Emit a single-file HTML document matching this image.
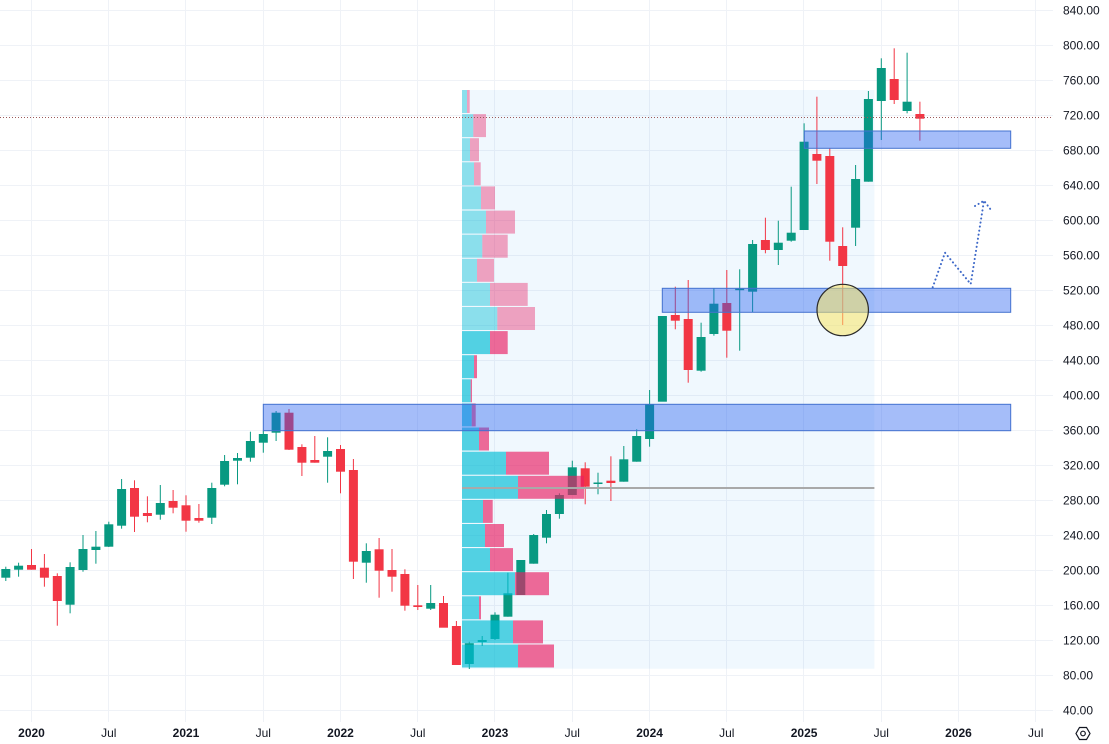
<!DOCTYPE html>
<html>
<head>
<meta charset="utf-8">
<style>
  html,body{margin:0;padding:0;background:#ffffff;}
  body{width:1109px;height:744px;overflow:hidden;}
  svg{display:block;}
  text{font-family:"Liberation Sans",sans-serif;font-size:12px;fill:#131722;}
</style>
</head>
<body>
<svg width="1109" height="744" viewBox="0 0 1109 744" xmlns="http://www.w3.org/2000/svg">
  <rect x="0" y="0" width="1109" height="744" fill="#ffffff"/>

  <!-- grid -->
  <g stroke="#eff2f7" stroke-width="1">
    <line x1="0" x2="1053" y1="10.5" y2="10.5"/>
    <line x1="0" x2="1053" y1="45.5" y2="45.5"/>
    <line x1="0" x2="1053" y1="80.5" y2="80.5"/>
    <line x1="0" x2="1053" y1="115.5" y2="115.5"/>
    <line x1="0" x2="1053" y1="150.5" y2="150.5"/>
    <line x1="0" x2="1053" y1="185.5" y2="185.5"/>
    <line x1="0" x2="1053" y1="220.5" y2="220.5"/>
    <line x1="0" x2="1053" y1="255.5" y2="255.5"/>
    <line x1="0" x2="1053" y1="290.5" y2="290.5"/>
    <line x1="0" x2="1053" y1="325.5" y2="325.5"/>
    <line x1="0" x2="1053" y1="360.5" y2="360.5"/>
    <line x1="0" x2="1053" y1="395.5" y2="395.5"/>
    <line x1="0" x2="1053" y1="430.5" y2="430.5"/>
    <line x1="0" x2="1053" y1="465.5" y2="465.5"/>
    <line x1="0" x2="1053" y1="500.5" y2="500.5"/>
    <line x1="0" x2="1053" y1="535.5" y2="535.5"/>
    <line x1="0" x2="1053" y1="570.5" y2="570.5"/>
    <line x1="0" x2="1053" y1="605.5" y2="605.5"/>
    <line x1="0" x2="1053" y1="640.5" y2="640.5"/>
    <line x1="0" x2="1053" y1="675.5" y2="675.5"/>
    <line x1="0" x2="1053" y1="710.5" y2="710.5"/>
    <line y1="0" y2="722" x1="31.5" x2="31.5"/>
    <line y1="0" y2="722" x1="108.5" x2="108.5"/>
    <line y1="0" y2="722" x1="185.5" x2="185.5"/>
    <line y1="0" y2="722" x1="263.5" x2="263.5"/>
    <line y1="0" y2="722" x1="340.5" x2="340.5"/>
    <line y1="0" y2="722" x1="417.5" x2="417.5"/>
    <line y1="0" y2="722" x1="494.5" x2="494.5"/>
    <line y1="0" y2="722" x1="572.5" x2="572.5"/>
    <line y1="0" y2="722" x1="649.5" x2="649.5"/>
    <line y1="0" y2="722" x1="726.5" x2="726.5"/>
    <line y1="0" y2="722" x1="803.5" x2="803.5"/>
    <line y1="0" y2="722" x1="881.5" x2="881.5"/>
    <line y1="0" y2="722" x1="958.5" x2="958.5"/>
    <line y1="0" y2="722" x1="1035.5" x2="1035.5"/>
  </g>

  <!-- volume profile background -->
  <rect x="462" y="90" width="412.4" height="578.7" fill="rgba(33,150,243,0.065)"/>

  <!-- green candles -->
  <g fill="#089981">
    <rect x="1.3" y="569" width="9" height="8.7"/><rect x="5.3" y="566.7" width="1" height="14.3"/>
    <rect x="14.1" y="565.7" width="9" height="4"/><rect x="18.1" y="562.7" width="1" height="14"/>
    <rect x="65.6" y="567" width="9" height="37.7"/><rect x="69.6" y="562.3" width="1" height="51"/>
    <rect x="78.5" y="549" width="9" height="21"/><rect x="82.5" y="535" width="1" height="36.7"/>
    <rect x="91.4" y="546.7" width="9" height="3.3"/><rect x="95.4" y="531" width="1" height="32.7"/>
    <rect x="104.3" y="524.3" width="9" height="22.4"/><rect x="108.3" y="521.7" width="1" height="25.3"/>
    <rect x="117.1" y="489" width="9" height="36.7"/><rect x="121.1" y="479" width="1" height="49.7"/>
    <rect x="155.8" y="503" width="9" height="11.7"/><rect x="159.8" y="485" width="1" height="34.7"/>
    <rect x="207.3" y="488" width="9" height="29.7"/><rect x="211.3" y="482.7" width="1" height="41.3"/>
    <rect x="220.1" y="461" width="9" height="23.7"/><rect x="224.1" y="455" width="1" height="31.3"/>
    <rect x="233" y="458" width="9" height="2.7"/><rect x="237" y="453" width="1" height="31.3"/>
    <rect x="245.9" y="441" width="9" height="16.7"/><rect x="249.9" y="431.7" width="1" height="30"/>
    <rect x="258.8" y="434" width="9" height="8.7"/><rect x="262.8" y="430.7" width="1" height="22"/>
    <rect x="271.6" y="412.7" width="9" height="20"/><rect x="275.6" y="411" width="1" height="30"/>
    <rect x="323.1" y="451" width="9" height="5.7"/><rect x="327.1" y="437.3" width="1" height="45.4"/>
    <rect x="361.8" y="551" width="9" height="11.7"/><rect x="365.8" y="543.3" width="1" height="39.4"/>
    <rect x="426.2" y="603" width="9" height="5.7"/><rect x="430.2" y="585" width="1" height="25"/>
    <rect x="464.8" y="643.3" width="9" height="20.7"/><rect x="468.8" y="641.7" width="1" height="27.3"/>
    <rect x="477.7" y="640" width="9" height="2"/><rect x="481.7" y="636" width="1" height="10"/>
    <rect x="490.5" y="614.7" width="9" height="24.3"/><rect x="494.5" y="612.3" width="1" height="27.7"/>
    <rect x="503.4" y="593.3" width="9" height="23.4"/><rect x="507.4" y="572.7" width="1" height="44"/>
    <rect x="516.3" y="560" width="9" height="35"/>
    <rect x="529.2" y="535" width="9" height="28.7"/><rect x="533.2" y="534" width="1" height="29.7"/>
    <rect x="542" y="514" width="9" height="23.7"/><rect x="546" y="510" width="1" height="33.3"/>
    <rect x="554.9" y="495" width="9" height="19"/><rect x="558.9" y="493.3" width="1" height="25.4"/>
    <rect x="567.8" y="467.3" width="9" height="27.7"/><rect x="571.8" y="460.7" width="1" height="34.3"/>
    <rect x="593.5" y="482.5" width="9" height="1.5"/><rect x="597.5" y="472.7" width="1" height="21.6"/>
    <rect x="619.3" y="459.3" width="9" height="22.4"/><rect x="623.3" y="446" width="1" height="35.7"/>
    <rect x="632.2" y="436" width="9" height="25.7"/><rect x="636.2" y="429.3" width="1" height="32.4"/>
    <rect x="645.1" y="404" width="9" height="35"/><rect x="649.1" y="390" width="1" height="56.7"/>
    <rect x="657.9" y="316" width="9" height="85.7"/>
    <rect x="696.6" y="337" width="9" height="33.7"/><rect x="700.6" y="322.7" width="1" height="49"/>
    <rect x="709.4" y="303.7" width="9" height="30.3"/><rect x="713.4" y="288.3" width="1" height="47.4"/>
    <rect x="735.2" y="288.7" width="9" height="1.5"/><rect x="739.2" y="269.3" width="1" height="81.4"/>
    <rect x="748.1" y="244" width="9" height="47.7"/><rect x="752.1" y="240" width="1" height="72.3"/>
    <rect x="773.8" y="242.7" width="9" height="7.3"/><rect x="777.8" y="220.7" width="1" height="44.3"/>
    <rect x="786.7" y="232.7" width="9" height="8"/><rect x="790.7" y="186.7" width="1" height="55"/>
    <rect x="799.6" y="141.7" width="9" height="88.3"/><rect x="803.6" y="123.3" width="1" height="106.7"/>
    <rect x="851.1" y="179" width="9" height="48.7"/><rect x="855.1" y="165" width="1" height="81"/>
    <rect x="863.9" y="99" width="9" height="82.7"/><rect x="867.9" y="91" width="1" height="90.7"/>
    <rect x="876.8" y="68" width="9" height="33"/><rect x="880.8" y="58.3" width="1" height="81.7"/>
    <rect x="902.6" y="101.7" width="9" height="9.3"/><rect x="906.6" y="52.7" width="1" height="60.6"/>
  </g>

  <!-- red candles -->
  <g fill="#f23645">
    <rect x="27" y="565" width="9" height="4.7"/><rect x="31" y="549" width="1" height="20.7"/>
    <rect x="39.9" y="567.7" width="9" height="10"/><rect x="43.9" y="554" width="1" height="32.7"/>
    <rect x="52.8" y="576" width="9" height="25"/><rect x="56.8" y="573.3" width="1" height="52.4"/>
    <rect x="130" y="488" width="9" height="28.7"/><rect x="134" y="480.3" width="1" height="51.7"/>
    <rect x="142.9" y="513" width="9" height="3"/><rect x="146.9" y="496.3" width="1" height="26"/>
    <rect x="168.6" y="501" width="9" height="6.7"/><rect x="172.6" y="490" width="1" height="23.3"/>
    <rect x="181.5" y="505.3" width="9" height="15.4"/><rect x="185.5" y="495.3" width="1" height="36.4"/>
    <rect x="194.4" y="518" width="9" height="2.7"/><rect x="198.4" y="504" width="1" height="18.7"/>
    <rect x="284.5" y="412.7" width="9" height="37"/><rect x="288.5" y="409" width="1" height="41"/>
    <rect x="297.4" y="447" width="9" height="15.7"/><rect x="301.4" y="444.3" width="1" height="31.7"/>
    <rect x="310.3" y="460" width="9" height="2.7"/><rect x="314.3" y="436" width="1" height="26.7"/>
    <rect x="336" y="449" width="9" height="22.7"/><rect x="340" y="445" width="1" height="48.3"/>
    <rect x="348.9" y="470" width="9" height="91.7"/><rect x="352.9" y="459" width="1" height="120"/>
    <rect x="374.6" y="549.3" width="9" height="21.4"/><rect x="378.6" y="538" width="1" height="59.7"/>
    <rect x="387.5" y="570" width="9" height="6.7"/><rect x="391.5" y="549" width="1" height="42.7"/>
    <rect x="400.4" y="574" width="9" height="31.7"/><rect x="404.4" y="569.3" width="1" height="41.4"/>
    <rect x="413.3" y="605.3" width="9" height="1.7"/><rect x="417.3" y="585" width="1" height="25"/>
    <rect x="439" y="603" width="9" height="24.7"/><rect x="443" y="596" width="1" height="31.3"/>
    <rect x="451.9" y="626" width="9" height="39"/><rect x="455.9" y="621" width="1" height="44"/>
    <rect x="580.7" y="468.3" width="9" height="18.4"/><rect x="584.7" y="462.3" width="1" height="42"/>
    <rect x="606.4" y="480.7" width="9" height="2.3"/><rect x="610.4" y="456.3" width="1" height="44.7"/>
    <rect x="670.8" y="315" width="9" height="5.7"/><rect x="674.8" y="286.7" width="1" height="42.6"/>
    <rect x="683.7" y="319" width="9" height="51"/><rect x="687.7" y="280" width="1" height="102.7"/>
    <rect x="722.3" y="303" width="9" height="27.7"/><rect x="726.3" y="270" width="1" height="87.7"/>
    <rect x="760.9" y="240" width="9" height="10"/><rect x="764.9" y="217.7" width="1" height="35.6"/>
    <rect x="812.4" y="154" width="9" height="6.7"/><rect x="816.4" y="96.7" width="1" height="87.3"/>
    <rect x="825.3" y="156" width="9" height="85.7"/><rect x="829.3" y="148.3" width="1" height="112.4"/>
    <rect x="838.2" y="246" width="9" height="20"/><rect x="842.2" y="227.3" width="1" height="97.7"/>
    <rect x="889.7" y="79" width="9" height="21"/><rect x="893.7" y="48.3" width="1" height="55.7"/>
    <rect x="915.4" y="114" width="9" height="4.7"/><rect x="919.4" y="101.7" width="1" height="39"/>
  </g>

  <!-- volume profile rows (light) -->
  <g fill="rgba(0,188,212,0.42)">
    <rect x="462" y="90" width="5" height="23"/>
    <rect x="462" y="114.1" width="11.3" height="23"/>
    <rect x="462" y="138.2" width="8" height="23"/>
    <rect x="462" y="162.3" width="12" height="23"/>
    <rect x="462" y="186.4" width="19" height="23"/>
    <rect x="462" y="210.6" width="24" height="23"/>
    <rect x="462" y="234.7" width="20.3" height="23"/>
    <rect x="462" y="258.8" width="15" height="23"/>
    <rect x="462" y="282.9" width="28" height="23"/>
    <rect x="462" y="307" width="35.3" height="23"/>
  </g>
  <g fill="rgba(233,30,99,0.4)">
    <rect x="467" y="90" width="2.7" height="23"/>
    <rect x="473.3" y="114.1" width="12.7" height="23"/>
    <rect x="470" y="138.2" width="9" height="23"/>
    <rect x="474" y="162.3" width="6.7" height="23"/>
    <rect x="481" y="186.4" width="14" height="23"/>
    <rect x="486" y="210.6" width="29" height="23"/>
    <rect x="482.3" y="234.7" width="25.4" height="23"/>
    <rect x="477" y="258.8" width="17" height="23"/>
    <rect x="490" y="282.9" width="37.7" height="23"/>
    <rect x="497.3" y="307" width="37.7" height="23"/>
  </g>
  <!-- volume profile rows (value area) -->
  <g fill="rgba(0,188,212,0.66)">
    <rect x="462" y="331.1" width="28" height="23"/>
    <rect x="462" y="355.2" width="12" height="23"/>
    <rect x="462" y="379.3" width="8.7" height="23"/>
    <rect x="462" y="403.4" width="9.7" height="23"/>
    <rect x="462" y="427.5" width="17" height="23"/>
    <rect x="462" y="451.7" width="44" height="23"/>
    <rect x="462" y="475.8" width="56" height="23"/>
    <rect x="462" y="499.9" width="21" height="23"/>
    <rect x="462" y="524" width="23" height="23"/>
    <rect x="462" y="548.1" width="28" height="23"/>
    <rect x="462" y="572.2" width="53" height="23"/>
    <rect x="462" y="596.3" width="17" height="23"/>
    <rect x="462" y="620.4" width="51" height="23"/>
    <rect x="462" y="644.5" width="56" height="23"/>
  </g>
  <g fill="rgba(233,30,99,0.66)">
    <rect x="490" y="331.1" width="17.7" height="23"/>
    <rect x="474" y="355.2" width="3" height="23"/>
    <rect x="470.7" y="379.3" width="1.3" height="23"/>
    <rect x="471.7" y="403.4" width="4" height="23"/>
    <rect x="479" y="427.5" width="10" height="23"/>
    <rect x="506" y="451.7" width="43" height="23"/>
    <rect x="518" y="475.8" width="66" height="23"/>
    <rect x="483" y="499.9" width="9.7" height="23"/>
    <rect x="485" y="524" width="19" height="23"/>
    <rect x="490" y="548.1" width="23" height="23"/>
    <rect x="515" y="572.2" width="34" height="23"/>
    <rect x="479" y="596.3" width="2" height="23"/>
    <rect x="513" y="620.4" width="30" height="23"/>
    <rect x="518" y="644.5" width="36" height="23"/>
  </g>
  <!-- POC line -->
  <rect x="462" y="487" width="412.4" height="2" fill="#a9a9a9"/>

  <!-- blue zones -->
  <g fill="rgba(41,98,240,0.42)" stroke="#4472cf" stroke-width="1">
    <rect x="804.3" y="131" width="206.4" height="17.3"/>
    <rect x="662.3" y="288.3" width="348.4" height="24"/>
    <rect x="263.3" y="404.3" width="747.4" height="26.4"/>
  </g>

  <!-- yellow circle -->
  <circle cx="842.7" cy="310" r="25.7" fill="rgba(250,230,100,0.55)" stroke="#2a2a2a" stroke-width="1.2"/>

  <!-- dotted arrow -->
  <g fill="none" stroke="#3d68c8" stroke-width="2" stroke-linecap="round" stroke-dasharray="0.1 4">
    <polyline points="932.7,287.3 945,252.7 970.7,284 984,200.7"/>
    <polyline points="975,206 984,200.7 992.3,211.7"/>
  </g>

  <!-- current price dotted line -->
  <line x1="0" x2="1053" y1="117.5" y2="117.5" stroke="#9c5a5a" stroke-width="1" stroke-dasharray="1 2"/>

  <!-- price axis labels -->
  <g dominant-baseline="central">
    <text x="1063" y="10.5">840.00</text>
    <text x="1063" y="45.5">800.00</text>
    <text x="1063" y="80.5">760.00</text>
    <text x="1063" y="115.5">720.00</text>
    <text x="1063" y="150.5">680.00</text>
    <text x="1063" y="185.5">640.00</text>
    <text x="1063" y="220.5">600.00</text>
    <text x="1063" y="255.5">560.00</text>
    <text x="1063" y="290.5">520.00</text>
    <text x="1063" y="325.5">480.00</text>
    <text x="1063" y="360.5">440.00</text>
    <text x="1063" y="395.5">400.00</text>
    <text x="1063" y="430.5">360.00</text>
    <text x="1063" y="465.5">320.00</text>
    <text x="1063" y="500.5">280.00</text>
    <text x="1063" y="535.5">240.00</text>
    <text x="1063" y="570.5">200.00</text>
    <text x="1063" y="605.5">160.00</text>
    <text x="1063" y="640.5">120.00</text>
    <text x="1063" y="675.5">80.00</text>
    <text x="1063" y="710.5">40.00</text>
  </g>

  <!-- time axis labels -->
  <g text-anchor="middle" dominant-baseline="central">
    <text x="31.5" y="733" font-weight="bold">2020</text>
    <text x="108.8" y="733">Jul</text>
    <text x="186" y="733" font-weight="bold">2021</text>
    <text x="263.3" y="733">Jul</text>
    <text x="340.5" y="733" font-weight="bold">2022</text>
    <text x="417.8" y="733">Jul</text>
    <text x="495" y="733" font-weight="bold">2023</text>
    <text x="572.3" y="733">Jul</text>
    <text x="649.6" y="733" font-weight="bold">2024</text>
    <text x="726.8" y="733">Jul</text>
    <text x="804.1" y="733" font-weight="bold">2025</text>
    <text x="881.3" y="733">Jul</text>
    <text x="958.5" y="733" font-weight="bold">2026</text>
    <text x="1035.7" y="733">Jul</text>
  </g>

  <!-- settings icon -->
  <g fill="none" stroke="#131722" stroke-width="1.2">
    <polygon points="1076,733.5 1079.5,727.5 1086.5,727.5 1090,733.5 1086.5,739.5 1079.5,739.5"/>
    <circle cx="1083" cy="733.5" r="2.3"/>
  </g>
</svg>
</body>
</html>
